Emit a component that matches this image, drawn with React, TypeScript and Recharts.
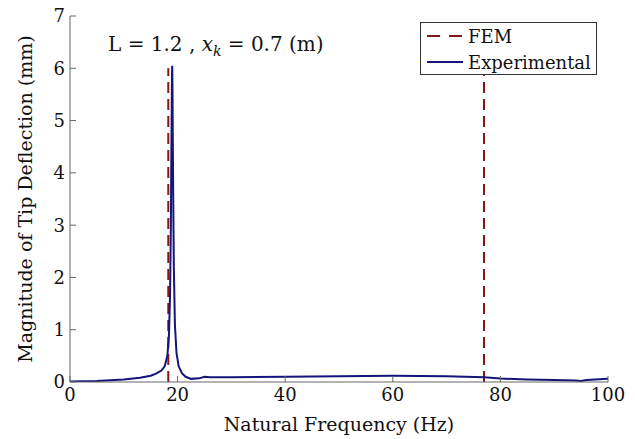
import React from 'react';
import { LineChart, Line, XAxis, YAxis, Legend } from 'recharts';

const expFreq = [0, 5, 10, 13, 15, 16, 17, 17.6, 18.1, 18.4, 18.6, 18.75, 18.85, 18.95, 19.0, 19.05, 19.15, 19.3, 19.5, 19.8, 20.2, 20.8, 21.5, 22.5, 24, 25, 26, 30, 40, 50, 60, 70, 77, 80, 85, 90, 94, 95, 96, 100];
const expMag = [0.01, 0.02, 0.05, 0.08, 0.12, 0.16, 0.22, 0.3, 0.5, 0.9, 1.7, 3.0, 4.5, 5.8, 6.05, 5.6, 4.0, 2.2, 1.1, 0.55, 0.3, 0.17, 0.1, 0.06, 0.07, 0.1, 0.09, 0.09, 0.1, 0.11, 0.12, 0.11, 0.09, 0.065, 0.05, 0.04, 0.03, 0.02, 0.04, 0.06];
const femFreq = [18.27, 76.95];
const femTop = [6.0, 5.9];
const xTicks = [0, 20, 40, 60, 80, 100];
const yTicks = [0, 1, 2, 3, 4, 5, 6, 7];

const expData = expFreq.map((f, i) => ({ f, v: expMag[i] }));
const femData = femFreq.map((f, i) => [{ f, v: 0 }, { f, v: femTop[i] }]);

const FONT = 'DejaVu Serif';
const BLUE = '#14147a';
const RED = '#8b1414';

const YLabel = (props: any) => {
  const vb = props.viewBox || { x: 0, y: 16, width: 70, height: 366 };
  const cx = 32;
  const cy = vb.y + vb.height / 2;
  return (
    <text x={cx} y={cy} transform={`rotate(-90 ${cx} ${cy})`} textAnchor="middle" fontFamily={FONT} fontSize={19} fill="#111">
      Magnitude of Tip Deflection (mm)
    </text>
  );
};

const LegendBox = () => (
  <div style={{ position: 'absolute', left: 420, top: 22, width: 175, height: 51, border: '1px solid #333', background: '#fff', fontFamily: FONT, fontSize: 18, color: '#111' }}>
    <div style={{ position: 'absolute', top: 0, left: 0, height: 26, display: 'flex', alignItems: 'center' }}>
      <svg width={48} height={10} style={{ marginLeft: 6 }}>
        <line x1={0} y1={5} x2={36} y2={5} stroke={RED} strokeWidth={2} strokeDasharray="13 9" />
      </svg>
      <span style={{ marginLeft: -7 }}>FEM</span>
    </div>
    <div style={{ position: 'absolute', top: 26, left: 0, height: 26, display: 'flex', alignItems: 'center' }}>
      <svg width={48} height={10} style={{ marginLeft: 6 }}>
        <line x1={0} y1={5} x2={36} y2={5} stroke={BLUE} strokeWidth={2} />
      </svg>
      <span style={{ marginLeft: -7 }}>Experimental</span>
    </div>
  </div>
);

export default function App() {
  return (
    <div style={{ position: 'absolute', left: 0, top: 0, width: 635, height: 439, background: '#fff' }}>
      <LineChart width={635} height={439} margin={{ top: 16, right: 27, bottom: 0, left: 0 }}>
        <XAxis
          xAxisId="b"
          type="number"
          dataKey="f"
          domain={[0, 100]}
          ticks={xTicks}
          allowDataOverflow
          height={57}
          tickSize={-6}
          tickMargin={12}
          axisLine={{ stroke: '#666' }}
          tickLine={{ stroke: '#666' }}
          tick={{ fontFamily: FONT, fontSize: 18, fill: '#111' }}
          label={{ value: 'Natural Frequency (Hz)', position: 'insideBottom', offset: 8, fontFamily: FONT, fontSize: 19, fill: '#111' }}
        />
        <XAxis
          xAxisId="t"
          orientation="top"
          type="number"
          dataKey="f"
          domain={[0, 100]}
          ticks={xTicks}
          allowDataOverflow
          height={0}
          tickSize={-6}
          tick={false}
          axisLine={{ stroke: '#222' }}
          tickLine={{ stroke: '#222' }}
        />
        <YAxis
          yAxisId="l"
          type="number"
          domain={[0, 7]}
          ticks={yTicks}
          allowDataOverflow
          width={70}
          tickSize={-6}
          tickMargin={11}
          axisLine={{ stroke: '#666' }}
          tickLine={{ stroke: '#666' }}
          tick={{ fontFamily: FONT, fontSize: 18, fill: '#111' }}
          label={<YLabel />}
        />
        <YAxis
          yAxisId="r"
          orientation="right"
          type="number"
          domain={[0, 7]}
          ticks={yTicks}
          allowDataOverflow
          width={0}
          tickSize={-6}
          tick={false}
          axisLine={{ stroke: '#222' }}
          tickLine={{ stroke: '#222' }}
        />
        {femData.map((d, i) => (
          <Line key={'fem' + i} xAxisId="b" yAxisId="l" data={d} dataKey="v" stroke={RED} strokeWidth={2} strokeDasharray="11 6" dot={false} isAnimationActive={false} legendType="none" />
        ))}
        <Line xAxisId="b" yAxisId="l" data={expData} dataKey="v" stroke={BLUE} strokeWidth={2} dot={false} isAnimationActive={false} name="Experimental" />
        <Legend content={() => <LegendBox />} wrapperStyle={{ position: 'absolute', left: 0, top: 0, width: 0, height: 0 }} />
      </LineChart>
      <div style={{ position: 'absolute', left: 108, top: 32, fontFamily: FONT, fontSize: 20, color: '#111', whiteSpace: 'pre' }}>
        {'L = 1.2 , '}<i>x</i><sub style={{ fontSize: 14, fontStyle: 'italic' }}>k</sub>{' = 0.7 (m)'}
      </div>
    </div>
  );
}
